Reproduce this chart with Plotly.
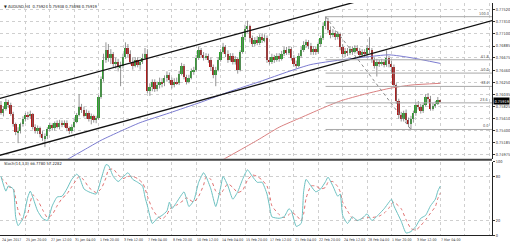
import plotly.graph_objects as go

# ---------------- data ----------------
time_labels = ["24 Jan 2017", "25 Jan 20:00", "27 Jan 12:00", "31 Jan 04:00", "1 Feb 20:00",
               "3 Feb 12:00", "7 Feb 04:00", "8 Feb 20:00", "10 Feb 12:00", "14 Feb 04:00",
               "15 Feb 20:00", "17 Feb 12:00", "21 Feb 04:00", "22 Feb 20:00", "24 Feb 12:00",
               "28 Feb 04:00", "1 Mar 20:00", "3 Mar 12:00", "7 Mar 04:00"]
time_label_bars = [0, 10, 20, 30, 40, 50, 60, 70, 80, 90, 100, 110, 120, 130, 140, 150, 160, 170, 180]

price_ticks = [0.74975, 0.75185, 0.75400, 0.75610, 0.75825, 0.76035, 0.76250,
               0.76460, 0.76675, 0.76885, 0.77100, 0.77310, 0.77520]

opens = [
    .7585, .7571, .7578, .7590, .7585, .7570, .7551, .7537, .7540, .7551,
    .7561, .7568, .7565, .7570, .7547, .7540, .7544, .7534, .7527, .7530,
    .7542, .7549, .7544, .7553, .7547, .7554, .7549, .7554, .7544, .7539,
    .7547, .7556, .7568, .7582, .7577, .7566, .7571, .7561, .7565, .7558,
    .7563, .7599, .7630, .7664, .7681, .7668, .7675, .7657, .7661, .7651,
    .7654, .7669, .7685, .7675, .7661, .7654, .7664, .7656, .7661, .7668,
    .7675, .7609, .7616, .7625, .7613, .7620, .7626, .7623, .7632, .7637,
    .7628, .7620, .7626, .7623, .7640, .7654, .7635, .7626, .7633, .7644,
    .7647, .7668, .7681, .7673, .7668, .7671, .7664, .7651, .7637, .7647,
    .7664, .7678, .7687, .7675, .7664, .7671, .7661, .7666, .7647, .7678,
    .7704, .7719, .7723, .7702, .7692, .7699, .7694, .7704, .7699, .7702,
    .7664, .7661, .7669, .7664, .7671, .7666, .7675, .7681, .7676, .7683,
    .7668, .7657, .7654, .7671, .7681, .7690, .7695, .7688, .7678, .7683,
    .7678, .7692, .7702, .7723, .7733, .7716, .7707, .7712, .7704, .7709,
    .7687, .7675, .7680, .7676, .7683, .7678, .7685, .7680, .7673, .7678,
    .7675, .7685, .7681, .7664, .7654, .7661, .7657, .7661, .7656, .7668,
    .7657, .7651, .7620, .7592, .7568, .7561, .7571, .7558, .7551, .7561,
    .7571, .7585, .7582, .7575, .7585, .7599, .7596, .7578, .7583, .7587,
    .75924]
highs = [
    .7592, .7583, .7596, .7594, .7589, .7573, .7554, .7546, .7554, .7565,
    .7571, .7573, .7575, .7571, .7551, .7549, .7547, .7539, .7535, .7546,
    .7554, .7553, .7556, .7558, .7559, .7558, .7558, .7558, .7547, .7551,
    .7561, .7571, .7604, .7587, .7582, .7577, .7575, .7570, .7568, .7566,
    .7602, .7635, .7675, .7695, .7692, .7683, .7678, .7668, .7666, .7661,
    .7675, .7695, .7692, .7681, .7668, .7669, .7669, .7666, .7675, .7685,
    .7683, .7623, .7630, .7630, .7626, .7633, .7632, .7637, .7644, .7642,
    .7633, .7632, .7633, .7645, .7659, .7657, .7638, .7638, .7649, .7652,
    .7673, .7687, .7685, .7678, .7676, .7675, .7668, .7656, .7652, .7669,
    .7683, .7694, .7690, .7681, .7676, .7676, .7671, .7669, .7681, .7709,
    .7726, .7733, .7726, .7707, .7704, .7706, .7709, .7711, .7709, .7707,
    .7669, .7675, .7673, .7676, .7676, .7680, .7687, .7687, .7688, .7687,
    .7673, .7663, .7676, .7687, .7697, .7700, .7699, .7694, .7688, .7688,
    .7695, .7707, .7730, .7740, .7738, .7723, .7718, .7716, .7714, .7712,
    .7692, .7685, .7685, .7688, .7688, .7690, .7690, .7685, .7683, .7683,
    .7690, .7704, .7685, .7668, .7666, .7664, .7666, .7664, .7681, .7671,
    .7663, .7656, .7623, .7596, .7573, .7575, .7577, .7563, .7566, .7575,
    .7590, .7592, .7587, .7589, .7604, .7606, .7601, .7589, .7592, .7599,
    .75938]
lows = [
    .7568, .7565, .7575, .7580, .7566, .7547, .7532, .7518, .7535, .7547,
    .7556, .7559, .7561, .7542, .7535, .7534, .7528, .7522, .7511, .7525,
    .7539, .7540, .7540, .7544, .7542, .7546, .7546, .7539, .7534, .7535,
    .7544, .7553, .7565, .7571, .7563, .7561, .7556, .7551, .7554, .7553,
    .7559, .7596, .7626, .7659, .7661, .7657, .7651, .7649, .7644, .7618,
    .7649, .7666, .7669, .7656, .7647, .7651, .7651, .7647, .7657, .7664,
    .7606, .7601, .7609, .7608, .7609, .7614, .7616, .7618, .7626, .7623,
    .7614, .7616, .7620, .7620, .7637, .7630, .7621, .7623, .7630, .7638,
    .7644, .7664, .7668, .7663, .7664, .7659, .7645, .7632, .7618, .7644,
    .7661, .7675, .7669, .7659, .7661, .7656, .7656, .7640, .7644, .7675,
    .7699, .7712, .7695, .7687, .7688, .7690, .7690, .7694, .7695, .7659,
    .7656, .7657, .7659, .7661, .7661, .7663, .7671, .7673, .7673, .7663,
    .7652, .7649, .7651, .7668, .7678, .7685, .7683, .7673, .7673, .7673,
    .7675, .7687, .7699, .7718, .7711, .7702, .7704, .7699, .7700, .7681,
    .7669, .7669, .7671, .7673, .7673, .7675, .7675, .7668, .7669, .7669,
    .7669, .7676, .7659, .7649, .7635, .7652, .7654, .7651, .7652, .7651,
    .7640, .7616, .7587, .7561, .7556, .7556, .7553, .7546, .7542, .7554,
    .7566, .7577, .7570, .7571, .7582, .7590, .7575, .7575, .7580, .7585,
    .75898]
closes = [
    .7571, .7578, .7590, .7585, .7570, .7551, .7537, .7540, .7551, .7561,
    .7568, .7565, .7570, .7547, .7540, .7544, .7534, .7527, .7530, .7542,
    .7549, .7544, .7553, .7547, .7554, .7549, .7554, .7544, .7539, .7547,
    .7556, .7568, .7582, .7577, .7566, .7571, .7561, .7565, .7558, .7563,
    .7599, .7630, .7664, .7681, .7668, .7675, .7657, .7661, .7651, .7654,
    .7669, .7685, .7675, .7661, .7654, .7664, .7656, .7661, .7668, .7675,
    .7609, .7616, .7625, .7613, .7620, .7626, .7623, .7632, .7637, .7628,
    .7620, .7626, .7623, .7640, .7654, .7635, .7626, .7633, .7644, .7647,
    .7668, .7681, .7673, .7668, .7671, .7664, .7651, .7637, .7647, .7664,
    .7678, .7687, .7675, .7664, .7671, .7661, .7666, .7647, .7678, .7704,
    .7719, .7723, .7702, .7692, .7699, .7694, .7704, .7699, .7702, .7664,
    .7661, .7669, .7664, .7671, .7666, .7675, .7681, .7676, .7683, .7668,
    .7657, .7654, .7671, .7681, .7690, .7695, .7688, .7678, .7683, .7678,
    .7692, .7702, .7723, .7733, .7716, .7707, .7712, .7704, .7709, .7687,
    .7675, .7680, .7676, .7683, .7678, .7685, .7680, .7673, .7678, .7675,
    .7685, .7681, .7664, .7654, .7661, .7657, .7661, .7656, .7668, .7657,
    .7651, .7620, .7592, .7568, .7561, .7571, .7558, .7551, .7561, .7571,
    .7585, .7582, .7575, .7585, .7599, .7596, .7578, .7583, .7587, .7594,
    .75919]

# moving averages
ma_blue_bars = [25, 34, 41, 49, 57, 69, 82, 94, 106, 118, 127, 139, 149, 159, 168, 180]
ma_blue_vals = [0.7484, 0.7506, 0.7523, 0.7539, 0.7554, 0.7571, 0.7590, 0.7609, 0.7626,
                0.7644, 0.7656, 0.7664, 0.7669, 0.7673, 0.7668, 0.7658]
ma_red_bars = [88, 98, 105, 114, 123, 131, 139, 149, 159, 168, 180]
ma_red_vals = [0.7482, 0.7506, 0.7523, 0.7546, 0.7563, 0.7578, 0.7592, 0.7604, 0.7614,
               0.7620, 0.7623]

# channel trend lines (anchor bar, price)
chan_low_bars = [-1, 202]
chan_low_prices = [0.7496, 0.7734]
chan_up_bars = [-1, 160]
chan_up_prices = [0.7596, 0.7783]

# fibonacci retracement
fib_high_bar = 133
fib_low_bar = 168
fib_ratios = [0.0, 0.236, 0.382, 0.5, 0.618, 1.0]
fib_texts = ["0.0", "23.6", "38.2", "50.0", "61.8", "100.0"]

# stochastic (14,3,3)
stoch_bars = [0, 2, 3, 5, 6, 7, 9, 11, 12, 13, 15, 17, 19, 21, 23, 25, 27, 29, 31, 32,
              34, 36, 39, 41, 43, 44, 46, 48, 50, 52, 54, 56, 58, 59, 60, 62, 64, 66, 68, 69,
              70, 72, 75, 76, 77, 79, 81, 83, 84, 86, 88, 90, 91, 93, 95, 97, 99, 101, 103, 105,
              107, 109, 110, 111, 114, 116, 118, 119, 121, 123, 124, 125, 127, 129, 131, 133, 134, 136, 138, 139,
              140, 142, 144, 146, 148, 150, 152, 155, 157, 159, 160, 161, 164, 166, 168, 170, 172, 174, 176, 178,
              179, 180]
stoch_main = [80, 60, 67, 63, 25, 13, 23, 52, 60, 52, 33, 23, 20, 40, 52, 53, 63, 76, 83, 80,
              63, 59, 56, 76, 96, 95, 80, 73, 79, 85, 76, 72, 67, 52, 40, 16, 23, 27, 33, 45,
              36, 45, 59, 49, 39, 47, 72, 85, 80, 63, 39, 65, 80, 67, 49, 59, 76, 89, 80, 72,
              72, 56, 40, 25, 23, 25, 36, 33, 12, 16, 59, 76, 67, 59, 63, 73, 79, 67, 53, 56,
              27, 16, 25, 20, 23, 29, 20, 29, 36, 45, 49, 40, 19, 3, 5, 12, 23, 27, 40, 49,
              60, 66.778]
stoch_signal = [78, 72, 66, 64, 50, 34, 20, 30, 45, 55, 48, 35, 24, 28, 40, 50, 56, 66, 76, 80,
                75, 65, 58, 63, 78, 89, 90, 82, 77, 80, 80, 77, 71, 64, 53, 36, 26, 22, 28, 35,
                38, 41, 48, 51, 49, 45, 53, 68, 79, 76, 60, 55, 61, 70, 65, 58, 61, 75, 82, 80,
                75, 67, 56, 40, 28, 24, 28, 31, 27, 20, 29, 50, 67, 67, 63, 65, 72, 73, 66, 59,
                45, 33, 23, 20, 23, 24, 24, 26, 30, 37, 43, 45, 36, 21, 9, 7, 13, 21, 30, 39,
                50, 57.2282]
stoch_levels = [0, 20, 80, 100]

# ---------------- figure ----------------
W, H = 510, 247
axis_right = 492 / W
X_RANGE = [-0.41, 201.2]
Y_RANGE = [0.749056, 0.776404]
FONT = "DejaVu Sans Condensed, Liberation Sans Narrow, Liberation Sans, sans-serif"
FS_AX = 3.9     # axis tick labels
FS_T = 3.6      # time labels
FS_H = 4.1      # header texts

n = len(closes)
bars = list(range(n))

fig = go.Figure()

# wicks
wx, wy = [], []
for i in bars:
    wx += [i, i, None]
    wy += [lows[i], highs[i], None]
fig.add_trace(go.Scatter(x=wx, y=wy, mode="lines", line=dict(color="#7a7a7a", width=0.8),
                         hoverinfo="skip", showlegend=False, xaxis="x", yaxis="y"))

# bodies
body_base = [min(o, c) for o, c in zip(opens, closes)]
body_h = [max(abs(c - o), 0.00003) for o, c in zip(opens, closes)]
body_col = ["#2ca02c" if c >= o else "#b01818" for o, c in zip(opens, closes)]
fig.add_trace(go.Bar(x=bars, y=body_h, base=body_base, marker=dict(color=body_col, line=dict(width=0)),
                     width=0.75, showlegend=False, xaxis="x", yaxis="y"))

# moving averages
fig.add_trace(go.Scatter(x=ma_blue_bars, y=ma_blue_vals, mode="lines",
                         line=dict(color="#7b7bd0", width=1, shape="spline", smoothing=0.6),
                         showlegend=False, xaxis="x", yaxis="y"))
fig.add_trace(go.Scatter(x=ma_red_bars, y=ma_red_vals, mode="lines",
                         line=dict(color="#d98080", width=1, shape="spline", smoothing=0.6),
                         showlegend=False, xaxis="x", yaxis="y"))

# channel
for bx, py in [(chan_low_bars, chan_low_prices), (chan_up_bars, chan_up_prices)]:
    fig.add_trace(go.Scatter(x=bx, y=py, mode="lines", line=dict(color="#111111", width=1.3),
                             showlegend=False, xaxis="x", yaxis="y"))

# fibonacci
fib_high = highs[fib_high_bar]
fib_low = lows[fib_low_bar]
for r, t in zip(fib_ratios, fib_texts):
    lvl = fib_low + r * (fib_high - fib_low)
    fig.add_trace(go.Scatter(x=[fib_high_bar, X_RANGE[1]], y=[lvl, lvl], mode="lines",
                             line=dict(color="#a8a8a8", width=1), showlegend=False,
                             xaxis="x", yaxis="y"))
    fig.add_annotation(x=X_RANGE[1], y=lvl, xref="x", yref="y", text=t, showarrow=False,
                       xanchor="right", yanchor="bottom", xshift=-1, yshift=-1,
                       font=dict(size=FS_AX, color="#555555", family=FONT))
fig.add_trace(go.Scatter(x=[fib_high_bar, fib_low_bar], y=[fib_high, fib_low], mode="lines",
                         line=dict(color="#8a8a8a", width=1, dash="dot"), showlegend=False,
                         xaxis="x", yaxis="y"))

# stochastic
fig.add_trace(go.Scatter(x=stoch_bars, y=stoch_signal, mode="lines",
                         line=dict(color="#e07070", width=1, dash="dot", shape="spline", smoothing=0.5),
                         showlegend=False, xaxis="x2", yaxis="y2"))
fig.add_trace(go.Scatter(x=stoch_bars, y=stoch_main, mode="lines",
                         line=dict(color="#6cc0c0", width=1, shape="spline", smoothing=0.5),
                         showlegend=False, xaxis="x2", yaxis="y2"))

main_dom = [88 / H, 1.0]
stoch_dom = [10 / H, 85 / H]

grid = dict(showgrid=True, gridcolor="#cfcfcf", griddash="dot", gridwidth=1, zeroline=False)

fig.update_layout(
    width=W, height=H, margin=dict(l=0, r=0, t=0, b=0),
    paper_bgcolor="white", plot_bgcolor="white", bargap=0,
    font=dict(family=FONT, size=FS_AX, color="#333333"),
    xaxis=dict(domain=[0, axis_right], range=X_RANGE, anchor="y",
               tickmode="array", tickvals=list(range(0, 201, 10)), showticklabels=False,
               ticks="", showline=False, **grid),
    xaxis2=dict(domain=[0, axis_right], range=X_RANGE, anchor="y2", matches="x",
                tickmode="array", tickvals=list(range(0, 201, 10)), showticklabels=False,
                ticks="", showline=True, linecolor="#222222", linewidth=1, **grid),
    yaxis=dict(domain=main_dom, range=Y_RANGE, side="right", anchor="x",
               tickmode="array", tickvals=price_ticks, ticktext=[f"{v:.5f}" for v in price_ticks],
               ticks="outside", ticklen=2, tickcolor="#333333",
               tickfont=dict(size=FS_AX, family=FONT, color="#333333"),
               showline=True, linecolor="#222222", linewidth=1, **grid),
    yaxis2=dict(domain=stoch_dom, range=[0, 100], side="right", anchor="x2",
                tickmode="array", tickvals=stoch_levels, ticktext=[str(v) for v in stoch_levels],
                ticks="outside", ticklen=2, tickcolor="#333333",
                tickfont=dict(size=FS_AX, family=FONT, color="#333333"),
                showline=True, linecolor="#222222", linewidth=1, **grid),
    showlegend=False,
)

# panel separator
fig.add_shape(type="line", xref="paper", yref="paper", x0=0, x1=axis_right,
              y0=(H - 160) / H, y1=(H - 160) / H, line=dict(color="#444444", width=2))

# time labels
for b, t in zip(time_label_bars, time_labels):
    fig.add_annotation(x=b, y=(H - 242) / H, xref="x2", yref="paper", text=t, showarrow=False,
                       xanchor="left", yanchor="middle", xshift=-1,
                       font=dict(size=FS_T, color="#333333", family=FONT))

# header texts
fig.add_annotation(x=2 / W, y=1 - 4 / H, xref="paper", yref="paper",
                   text=f"▼ AUDUSD,H4  {opens[-1]:.5f} {highs[-1]:.5f} {lows[-1]:.5f} {closes[-1]:.5f}",
                   showarrow=False, xanchor="left", yanchor="middle",
                   font=dict(size=FS_H, color="#222222", family=FONT))
fig.add_annotation(x=2 / W, y=(H - 164) / H, xref="paper", yref="paper",
                   text=f"Stoch(14,3,3) {stoch_main[-1]:.4f} {stoch_signal[-1]:.4f}",
                   showarrow=False, xanchor="left", yanchor="middle",
                   font=dict(size=FS_H, color="#222222", family=FONT))

# current price box
fig.add_annotation(x=axis_right, y=closes[-1], xref="paper", yref="y",
                   text=f"{closes[-1]:.5f}", showarrow=False, xanchor="left", yanchor="middle",
                   xshift=1, bgcolor="#000000", borderpad=0.5,
                   font=dict(size=FS_AX, color="#ffffff", family=FONT))

fig.write_html("out.html")
